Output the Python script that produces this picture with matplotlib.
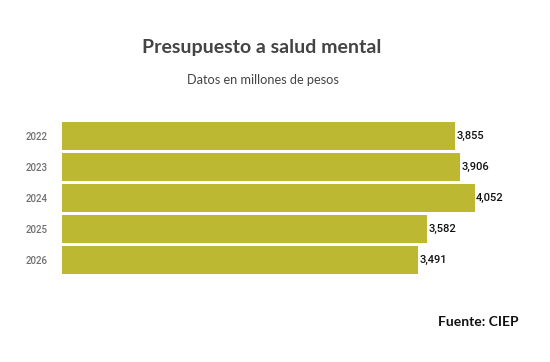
import numpy as np
import matplotlib.pyplot as plt

years = ['2022', '2023', '2024', '2025', '2026']
values = [3855, 3906, 4052, 3582, 3491]
labels = ['3,855', '3,906', '4,052', '3,582', '3,491']

W, H = 550, 362
fig = plt.figure(figsize=(W / 100, H / 100), dpi=100)
fig.patch.set_facecolor('white')

# axes box in pixel coordinates
x0, x1 = 62, 500
y_top, y_bot = 120.5, 275.5
ax = fig.add_axes([x0 / W, 1 - y_bot / H, (x1 - x0) / W, (y_bot - y_top) / H])

ypos = np.arange(len(years))
ax.barh(ypos, values, height=0.9, color='#bdb832')
ax.set_xlim(0, (x1 - x0) / 0.10185)
ax.set_ylim(len(years) - 0.5, -0.5)

for y, v, lab in zip(ypos, values, labels):
    ax.text(v + 15, y, lab, va='center', ha='left', fontsize=8,
            family='Roboto', fontweight='medium', color='#111111')

ax.set_yticks(ypos)
ax.set_yticklabels(years, family='Roboto', fontsize=7, fontweight='medium', color='#707070')
ax.tick_params(axis='y', length=0, pad=10)
ax.set_xticks([])
for s in ax.spines.values():
    s.set_visible(False)

fig.text(261.5 / W, 1 - 48 / H, 'Presupuesto a salud mental', ha='center', va='center',
         fontsize=14, fontweight='bold', family='Lato', color='#444444')
fig.text(263 / W, 1 - 80 / H, 'Datos en millones de pesos', ha='center', va='center',
         fontsize=9.2, family='Lato', color='#444444')
fig.text(519 / W, 1 - 322 / H, 'Fuente: CIEP', ha='right', va='center',
         fontsize=10, fontweight='bold', family='Lato', color='#111111')

fig.savefig('out.png', dpi=100)
